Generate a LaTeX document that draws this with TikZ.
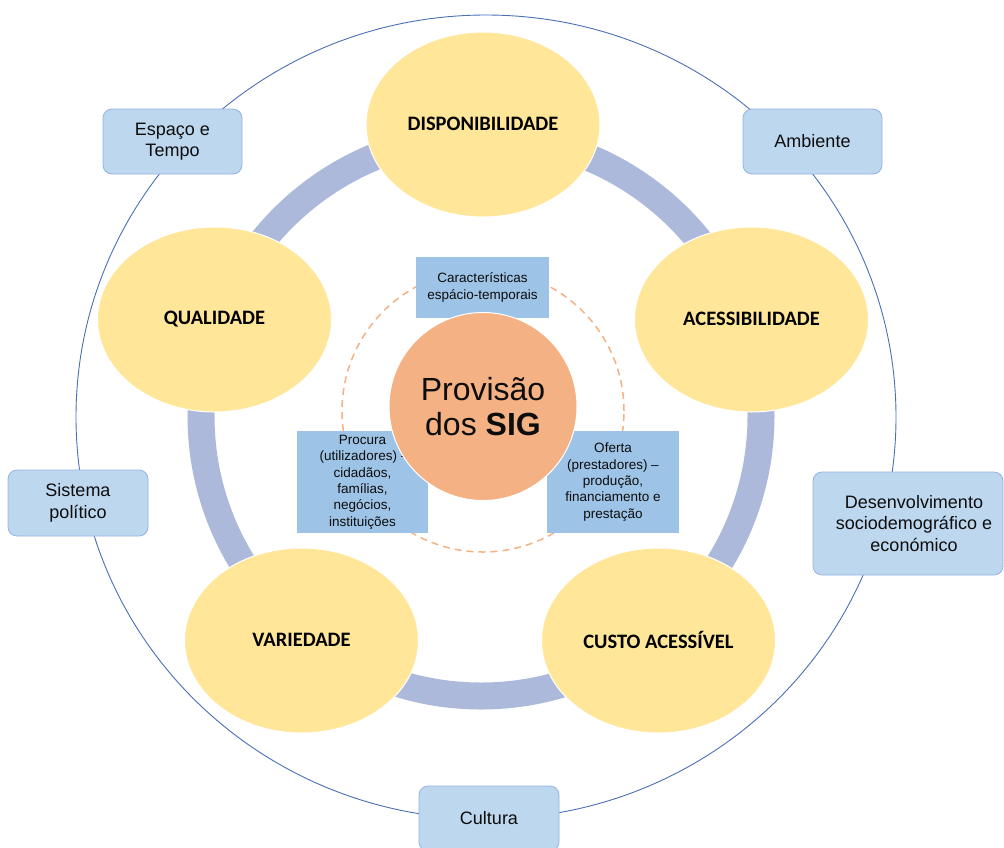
\documentclass[tikz,border=0pt]{standalone}
\usepackage{fontspec}
\setmainfont{Liberation Sans}
\newfontfamily\calib{Carlito}
\usetikzlibrary{shapes.geometric}
\definecolor{yel}{HTML}{FFE699}
\definecolor{ringc}{HTML}{ADB9DB}
\definecolor{core}{HTML}{F4B183}
\definecolor{boxblue}{HTML}{9DC3E6}
\definecolor{rblue}{HTML}{BDD7EE}
\definecolor{rborder}{HTML}{95B3E3}
\definecolor{outerc}{HTML}{4A6FB5}
\definecolor{txt}{HTML}{0D0D0D}
\begin{document}
\begin{tikzpicture}[x=1pt,y=-1pt,
  pillar/.style={ellipse, fill=yel, draw=white, line width=1pt,
    minimum width=234pt, minimum height=185pt, inner sep=0pt,
    font=\calib\bfseries\fontsize{20.5}{24}\selectfont, text=black},
  sqbox/.style={rectangle, fill=boxblue, inner sep=0pt, align=center,
    font=\fontsize{13.5}{16.4}\selectfont, text=txt},
  rbox/.style={rectangle, rounded corners=9pt, fill=rblue, draw=rborder,
    line width=0.8pt, align=center, inner sep=0pt,
    font=\fontsize{18}{21.5}\selectfont, text=txt}]
\useasboundingbox (0,0) rectangle (1004,847);
\clip (0,0) rectangle (1004,847);
% outer ellipse
\draw[outerc, line width=0.9pt] (486,417) ellipse (410pt and 402pt);
% ring
\draw[ringc, line width=27pt] (481,416) circle (280pt);
% pillars
\node[pillar] (disp) at (483,124.5) {\raisebox{1.5pt}{DISPONIBILIDADE}};
\node[pillar] (qual) at (214.5,319.5) {\raisebox{1.5pt}{QUALIDADE}};
\node[pillar] (aces) at (751.5,319.5) {\raisebox{1.5pt}{ACESSIBILIDADE}};
\node[pillar] (vari) at (301.5,640.5) {\raisebox{1.5pt}{VARIEDADE}};
\node[pillar] (cust) at (658.5,640.5) {\raisebox{1.5pt}{CUSTO ACESSÍVEL}};
% dashed circle
\draw[core, line width=1.5pt, dash pattern=on 7pt off 5pt] (483,411) circle (141pt);
% inner boxes
\node[sqbox, minimum width=133pt, minimum height=61pt] (carac) at (482.5,287.5)
  {Características\\espácio-temporais};
\node[sqbox, minimum width=131pt, minimum height=102pt] (proc) at (362.5,482)
  {Procura\\(utilizadores) -\\cidadãos,\\famílias,\\negócios,\\instituições};
\node[sqbox, minimum width=132pt, minimum height=102pt] (ofer) at (613,482)
  {Oferta\\(prestadores) –\\produção,\\financiamento e\\prestação};
% core
\node[circle, fill=core, draw=white, line width=1pt, minimum size=188pt, inner sep=0pt,
  align=center, font=\fontsize{32}{35}\selectfont, text=txt] (sig) at (483,406.5)
  {Provisão\\dos \textbf{SIG}};
% context boxes
\node[rbox, minimum width=139pt, minimum height=65pt] (espaco) at (172.5,141.5) {Espaço e\\Tempo};
\node[rbox, minimum width=139pt, minimum height=65pt] (ambi) at (812.5,141.5) {Ambiente};
\node[rbox, minimum width=140pt, minimum height=66pt] (sist) at (78,503) {Sistema\\político};
\node[rbox, minimum width=190pt, minimum height=103pt] (desen) at (908,523.5)
  {\hspace*{12pt}Desenvolvimento\\\hspace*{12pt}sociodemográfico e\\\hspace*{12pt}económico};
\node[rbox, minimum width=140pt, minimum height=65pt] (cult) at (489,818.5) {Cultura};
\end{tikzpicture}
\end{document}
